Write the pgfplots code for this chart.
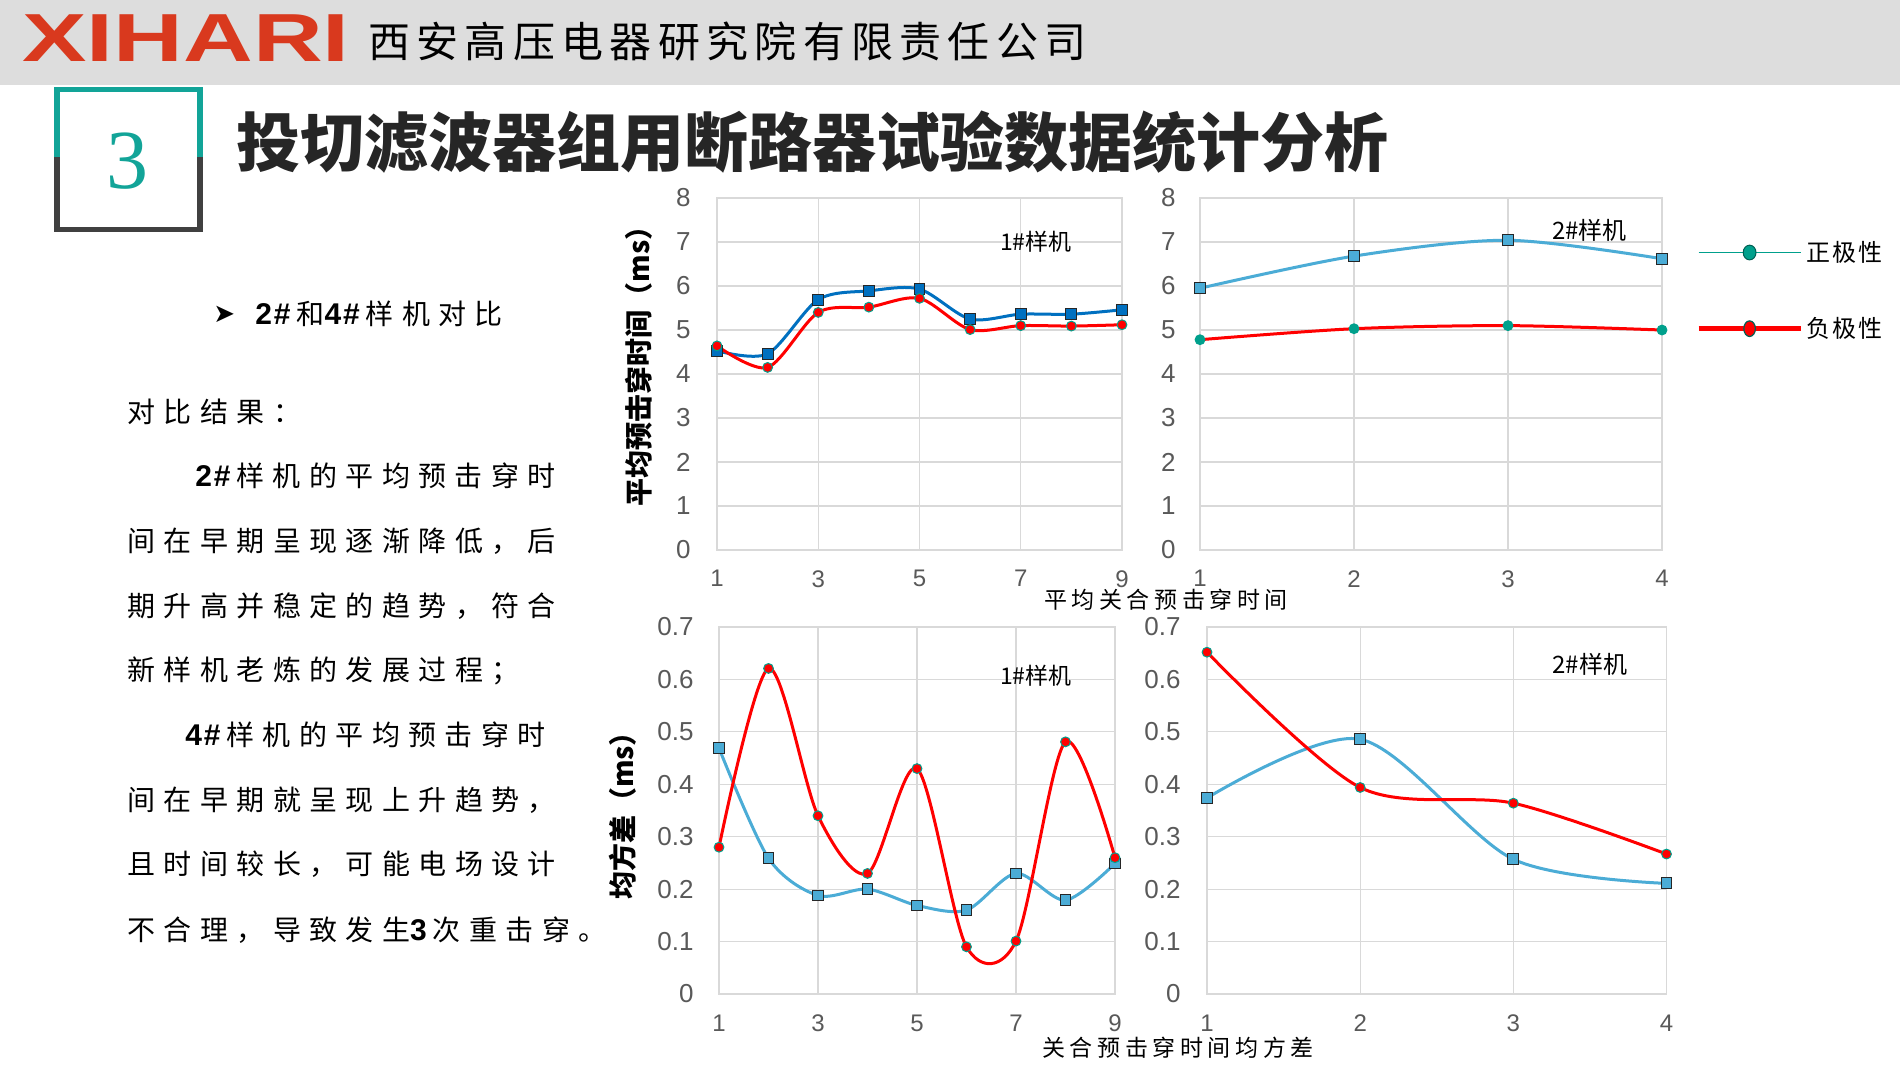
\documentclass[border=0pt]{standalone}
\usepackage{fontspec}
\usepackage{pgfplots}
\pgfplotsset{compat=1.18}
\setmainfont{Noto Sans CJK SC}
\newfontfamily\arial{Liberation Sans}
\newfontfamily\tnr{Liberation Serif}
\newfontfamily\dejavu{DejaVu Sans}
\newfontfamily\cjk{Noto Sans CJK SC}
\newfontfamily\cjkA[LetterSpace=20]{Noto Sans CJK SC}
\newfontfamily\cjkB[LetterSpace=30]{Noto Sans CJK SC}
\newfontfamily\cjkC[LetterSpace=15]{Noto Sans CJK SC}
\newfontfamily\cjkD[LetterSpace=8]{Noto Sans CJK SC}
\newfontfamily\latB[LetterSpace=6]{Liberation Sans}
\definecolor{hdr}{RGB}{221,221,221}
\definecolor{logored}{RGB}{217,57,30}
\definecolor{tealc}{RGB}{18,164,152}
\definecolor{boxdark}{RGB}{64,64,64}
\definecolor{tickgray}{RGB}{89,89,89}
\definecolor{gridgray}{RGB}{217,217,217}
\definecolor{blueA}{RGB}{0,112,192}
\definecolor{blueB}{RGB}{75,172,214}
\definecolor{mteal}{RGB}{0,160,140}
\definecolor{titlec}{RGB}{38,38,38}
\newcommand\bodyfont{\cjkB\fontsize{14}{14}\selectfont}
\newcommand\lb[1]{{\latB\bfseries\fontsize{15}{15}\selectfont #1\hspace{3pt}}}
\pgfplotsset{
  base/.style={
    scale only axis, clip=false,
    axis line style={draw=gridgray, line width=0.6pt},
    grid=major, major grid style={draw=gridgray, line width=0.6pt},
    tick style={draw=none},
    /pgf/number format/assume math mode=true,
    ticklabel style={text=tickgray, inner sep=0pt},
  },
  bl/.style={draw=#1, line width=1.5pt, smooth, mark=square*, mark size=2.7pt,
    mark options={fill=#1, draw=black!85, line width=0.5pt, solid}},
  rd/.style={draw=red, line width=1.5pt, smooth, mark=*, mark size=2.45pt,
    mark options={fill=#1, draw=mteal, line width=0.5pt}},
}
\begin{document}
\begin{tikzpicture}
\useasboundingbox (0,0) rectangle (950pt,-533.5pt);
\fill[white] (0,0) rectangle (950pt,-533.5pt);
\fill[hdr] (0,0) rectangle (950pt,-42.5pt);
\node[anchor=west, inner sep=0pt, text=logored] at (11pt,-19.25pt)
  {\scalebox{1.42}[1]{\arial\bfseries\fontsize{34}{34}\selectfont XIHARI}};
\node[anchor=west, inner sep=0pt] at (184pt,-20.5pt)
  {\cjkC\fontsize{21}{21}\selectfont 西安高压电器研究院有限责任公司};
% box 3
\draw[tealc, line width=2.75pt] (28.5pt,-78.5pt) -- (28.5pt,-44.75pt) -- (100pt,-44.75pt) -- (100pt,-78.5pt);
\draw[boxdark, line width=2.75pt] (28.5pt,-78.5pt) -- (28.5pt,-114.75pt) -- (100pt,-114.75pt) -- (100pt,-78.5pt);
\node[text=tealc, inner sep=0pt] at (63.5pt,-80.5pt) {\tnr\fontsize{42}{42}\selectfont 3};
\node[anchor=west, inner sep=0pt, text=titlec] at (118pt,-71.25pt)
  {\cjk\bfseries\fontsize{32}{32}\selectfont 投切滤波器组用断路器试验数据统计分析};
% left text
\node[anchor=west, inner sep=0pt] at (106.5pt,-157pt) {\dejavu\fontsize{13}{13}\selectfont ➤};
\node[anchor=west, inner sep=0pt, font=\bodyfont] at (127.5pt,-157pt) {\lb{2\#}和\lb{4\#}样机对比};
\node[anchor=west, inner sep=0pt, font=\bodyfont] at (63.5pt,-206pt) {对比结果：};
\node[anchor=west, inner sep=0pt, font=\bodyfont] at (97.5pt,-238pt) {\lb{2\#}样机的平均预击穿时};
\node[anchor=west, inner sep=0pt, font=\bodyfont] at (63.5pt,-270.5pt) {间在早期呈现逐渐降低，后};
\node[anchor=west, inner sep=0pt, font=\bodyfont] at (63.5pt,-303pt) {期升高并稳定的趋势，符合};
\node[anchor=west, inner sep=0pt, font=\bodyfont] at (63.5pt,-335.5pt) {新样机老炼的发展过程；};
\node[anchor=west, inner sep=0pt, font=\bodyfont] at (92.5pt,-367.5pt) {\lb{4\#}样机的平均预击穿时};
\node[anchor=west, inner sep=0pt, font=\bodyfont] at (63.5pt,-400pt) {间在早期就呈现上升趋势，};
\node[anchor=west, inner sep=0pt, font=\bodyfont] at (63.5pt,-432pt) {且时间较长，可能电场设计};
\node[anchor=west, inner sep=0pt, font=\bodyfont] at (63.5pt,-465pt) {不合理，导致发生\lb{3}次重击穿。};
% axis labels
\node[rotate=90, inner sep=0pt] at (319.5pt,-179.75pt) {\cjk\bfseries\fontsize{14}{14}\selectfont 平均预击穿时间（ms）};
\node[rotate=90, inner sep=0pt] at (311.5pt,-404.5pt) {\cjk\bfseries\fontsize{14}{14}\selectfont 均方差（ms）};
\node[inner sep=0pt] at (583pt,-300pt) {\cjkA\fontsize{11.5}{11.5}\selectfont 平均关合预击穿时间};
\node[inner sep=0pt] at (589pt,-524pt) {\cjkA\fontsize{11.5}{11.5}\selectfont 关合预击穿时间均方差};

% top-left
\begin{axis}[base, at={(358.5pt,-275pt)}, anchor=south west, width=202.5pt, height=176pt,
  xmin=1, xmax=9, ymin=0, ymax=8, xtick={1,3,5,7,9}, ytick={0,1,2,3,4,5,6,7,8},
  xticklabel style={font=\arial\fontsize{12}{12}\selectfont, anchor=north, yshift=-10pt},
  yticklabel style={font=\arial\fontsize{13}{13}\selectfont, anchor=east, xshift=-13pt}]
\addplot[bl=blueA] coordinates {(1,4.53)(2,4.46)(3,5.69)(4,5.89)(5,5.93)(6,5.25)(7,5.36)(8,5.36)(9,5.46)};
\addplot[rd=red] coordinates {(1,4.64)(2,4.15)(3,5.40)(4,5.52)(5,5.72)(6,5.01)(7,5.10)(8,5.09)(9,5.12)};
\node[font=\cjk\fontsize{11.5}{11.5}\selectfont] at (axis cs:7.3,7) {1\#样机};
\end{axis}

% top-right
\begin{axis}[base, at={(600pt,-275pt)}, anchor=south west, width=231pt, height=176pt,
  xmin=1, xmax=4, ymin=0, ymax=8, xtick={1,2,3,4}, ytick={0,1,2,3,4,5,6,7,8},
  xticklabel style={font=\arial\fontsize{12}{12}\selectfont, anchor=north, yshift=-10pt},
  yticklabel style={font=\arial\fontsize{13}{13}\selectfont, anchor=east, xshift=-12pt},
  legend image code/.code={\draw[mark repeat=2,mark phase=2,#1] plot coordinates {(0pt,0pt) (25.5pt,0pt) (51pt,0pt)};},
  legend cell align=left,
  legend style={at={(1.0736,0.737)}, anchor=west, draw=none, fill=none, inner sep=0pt,
    row sep=22.5pt, font=\cjkD\fontsize{12}{12}\selectfont}]
\addplot[bl=blueB, forget plot] coordinates {(1,5.95)(2,6.68)(3,7.04)(4,6.62)};
\addplot[rd=mteal, forget plot] coordinates {(1,4.78)(2,5.03)(3,5.10)(4,5.00)};
\node[font=\cjk\fontsize{12}{12}\selectfont] at (axis cs:3.53,7.27) {2\#样机};
\addlegendimage{draw=mteal, line width=0.7pt, mark=*, mark size=3.2pt, mark options={fill=mteal, draw=mteal!60!black, yscale=1.15, line width=0.5pt}}
\addlegendentry{正极性}
\addlegendimage{draw=red, line width=2.2pt, mark=*, mark size=3.4pt, mark options={fill=red, draw=mteal!60!black, xscale=0.85, yscale=1.15, line width=0.6pt}}
\addlegendentry{负极性}
\end{axis}

% bottom-left
\begin{axis}[base, at={(359.5pt,-497pt)}, anchor=south west, width=198pt, height=183.5pt,
  xmin=1, xmax=9, ymin=0, ymax=0.7, xtick={1,3,5,7,9}, ytick={0,0.1,0.2,0.3,0.4,0.5,0.6,0.7},
  yticklabel={\pgfmathprintnumber[fixed,precision=1]{\tick}},
  xticklabel style={font=\arial\fontsize{12}{12}\selectfont, anchor=north, yshift=-10.2pt},
  yticklabel style={font=\arial\fontsize{13}{13}\selectfont, anchor=east, xshift=-12.5pt}]
\addplot[bl=blueB] coordinates {(1,0.469)(2,0.259)(3,0.188)(4,0.200)(5,0.169)(6,0.160)(7,0.230)(8,0.179)(9,0.249)};
\addplot[rd=red] coordinates {(1,0.280)(2,0.621)(3,0.340)(4,0.230)(5,0.430)(6,0.090)(7,0.101)(8,0.481)(9,0.260)};
\node[font=\cjk\fontsize{11.5}{11.5}\selectfont] at (axis cs:7.4,0.608) {1\#样机};
\end{axis}

% bottom-right
\begin{axis}[base, at={(603.5pt,-497pt)}, anchor=south west, width=229.75pt, height=183.5pt,
  xmin=1, xmax=4, ymin=0, ymax=0.7, xtick={1,2,3,4}, ytick={0,0.1,0.2,0.3,0.4,0.5,0.6,0.7},
  yticklabel={\pgfmathprintnumber[fixed,precision=1]{\tick}},
  xticklabel style={font=\arial\fontsize{12}{12}\selectfont, anchor=north, yshift=-10.2pt},
  yticklabel style={font=\arial\fontsize{13}{13}\selectfont, anchor=east, xshift=-13pt}]
\addplot[bl=blueB] coordinates {(1,0.374)(2,0.486)(3,0.257)(4,0.211)};
\addplot[rd=red] coordinates {(1,0.652)(2,0.394)(3,0.364)(4,0.267)};
\node[font=\cjk\fontsize{12}{12}\selectfont] at (axis cs:3.5,0.628) {2\#样机};
\end{axis}
\end{tikzpicture}
\end{document}
